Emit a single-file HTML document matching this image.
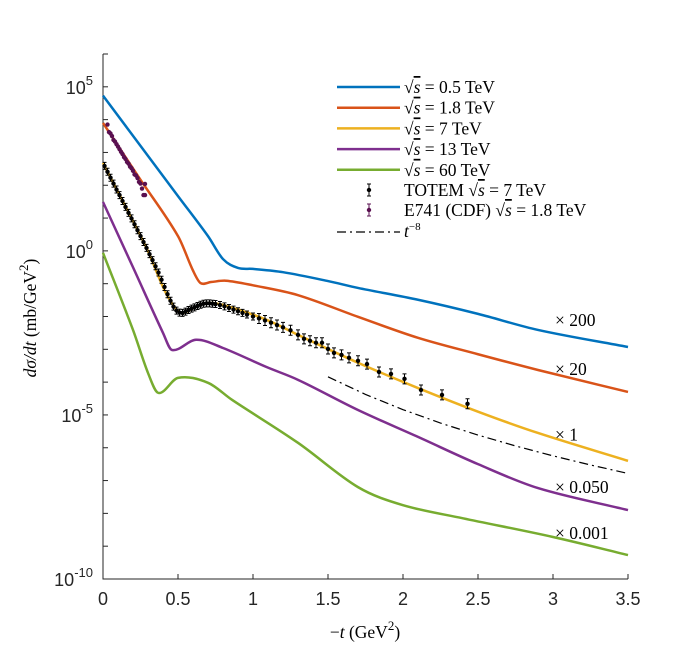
<!DOCTYPE html>
<html><head><meta charset="utf-8"><style>
body{margin:0;background:#fff}
svg{display:block}
.tk{font-family:"Liberation Sans",sans-serif;font-size:18px;fill:#262626}
.tx{font-family:"Liberation Serif",serif;font-size:17.5px;fill:#000}
</style></head><body>
<svg id="chart" width="700" height="656" viewBox="0 0 700 656">
<g id="axes"></g>
<g id="series"></g>
<g id="data"></g>
<g id="legend"></g>
<text class="tx" x="365" y="638" text-anchor="middle" font-size="21"><tspan>−</tspan><tspan font-style="italic">t</tspan> (GeV<tspan dy="-8" font-size="13">2</tspan><tspan dy="8">)</tspan></text>
<text class="tx" transform="translate(36,318) rotate(-90)" text-anchor="middle" font-size="21"><tspan font-style="italic">dσ/dt</tspan> (mb/GeV<tspan dy="-8" font-size="13">2</tspan><tspan dy="8">)</tspan></text>
</svg>
<script>
// ---- data (log10 of dσ/dt, scaled) ----
const blueT=[0,0.25,0.5,0.7,0.8,0.9,1.0,1.2,1.5,1.7,2.1,2.5,2.9,3.5];
const blueV=[4.73,3.2,1.67,0.45,-0.25,-0.52,-0.55,-0.65,-0.92,-1.13,-1.49,-1.92,-2.41,-2.93];
const orangeT=[0,0.245,0.5,0.6,0.65,0.72,0.82,1.0,1.3,1.7,2.1,2.5,2.9,3.5];
const orangeV=[3.9,2.2,0.45,-0.6,-0.98,-0.95,-0.91,-1.05,-1.35,-2.01,-2.65,-3.15,-3.63,-4.30];
const yellowT=[0,0.29,0.4,0.46,0.52,0.6,0.69,0.8,1.09,1.3,1.7,2.1,2.5,2.9,3.5];
const yellowV=[2.68,0.09,-1.1,-1.6,-1.89,-1.75,-1.59,-1.65,-2.10,-2.56,-3.41,-4.18,-4.9,-5.55,-6.4];
const purpleT=[0,0.2,0.4,0.46,0.62,0.8,1.09,1.3,1.7,2.1,2.5,2.9,3.5];
const purpleV=[1.49,-0.5,-2.5,-3.02,-2.71,-2.96,-3.54,-3.93,-4.85,-5.67,-6.5,-7.23,-7.9];
const greenT=[0,0.2,0.3,0.37,0.5,0.7,0.86,1.3,1.7,2.0,2.4,3.0,3.5];
const greenV=[-0.06,-2.41,-3.72,-4.33,-3.87,-4.02,-4.54,-5.85,-7.2,-7.75,-8.15,-8.72,-9.27];
const totemT=[0.01,0.03,0.05,0.07,0.09,0.11,0.13,0.15,0.17,0.19,0.21,0.23,0.25,0.27,0.29,0.31,0.33,0.35,0.37,0.39,0.41,0.43,0.45,0.47,0.49,0.51,0.53,0.55,0.57,0.59,0.61,0.63,0.65,0.67,0.69,0.71,0.73,0.75,0.78,0.81,0.84,0.87,0.90,0.93,0.96,1.00,1.04,1.08,1.12,1.16,1.20,1.25,1.30,1.34,1.38,1.42,1.46,1.50,1.54,1.59,1.64,1.70,1.76,1.84,1.92,2.01,2.12,2.26,2.43];
const totemV=[2.59,2.41,2.23,2.05,1.87,1.70,1.52,1.34,1.16,0.99,0.81,0.63,0.45,0.27,0.09,-0.10,-0.28,-0.47,-0.66,-0.88,-1.10,-1.32,-1.52,-1.70,-1.82,-1.88,-1.89,-1.85,-1.80,-1.76,-1.72,-1.68,-1.64,-1.61,-1.60,-1.60,-1.61,-1.62,-1.65,-1.69,-1.74,-1.79,-1.84,-1.89,-1.94,-2.0,-2.06,-2.12,-2.19,-2.26,-2.33,-2.42,-2.56,-2.68,-2.74,-2.80,-2.80,-2.99,-3.11,-3.17,-3.26,-3.35,-3.45,-3.69,-3.75,-3.90,-4.24,-4.39,-4.66];
const e741T=[0.03,0.04,0.05,0.06,0.07,0.08,0.09,0.10,0.11,0.12,0.13,0.14,0.15,0.16,0.17,0.18,0.19,0.20,0.21,0.22,0.23,0.24,0.25,0.26,0.27,0.28,0.28];
const e741V=[3.85,3.62,3.58,3.50,3.38,3.33,3.25,3.18,3.10,3.02,2.95,2.86,2.80,2.71,2.66,2.57,2.52,2.44,2.33,2.30,2.22,2.10,2.05,1.90,1.70,2.04,1.70];
const powerT=[1.5,1.75,2.0,2.25,2.5,2.75,3.0,3.25,3.5];
const powerLogC=-2.43, powerExp=-8;
const xTicks=[0,0.5,1,1.5,2,2.5,3,3.5];
const xTickLabels=["0","0.5","1","1.5","2","2.5","3","3.5"];
const yTicks=[-10,-5,0,5];
const scaleLabels=["× 200","× 20","× 1","× 0.050","× 0.001"];
const scaleLabelPos=[[3.0,-2.1],[3.0,-3.6],[3.0,-5.6],[3.0,-7.2],[3.0,-8.6]];

// ---- axes functions ----
const X0=103,X1=628,Y0=579,Y1=54,xMin=0,xMax=3.5,yMin=-10,yMax=6;
const sx=t=>X0+(t-xMin)/(xMax-xMin)*(X1-X0);
const sy=v=>Y0-(v-yMin)/(yMax-yMin)*(Y0-Y1);
const NS="http://www.w3.org/2000/svg";
function mk(tag,attrs,parent){const e=document.createElementNS(NS,tag);for(const k in attrs)e.setAttribute(k,attrs[k]);parent.appendChild(e);return e;}
const axes=document.getElementById('axes');
let ax=mk('path',{d:`M${X0},${Y1}V${Y0}H${X1}`,fill:'none',stroke:'#262626','stroke-width':1},axes);


xTicks.forEach((t,i)=>{
  const l=mk('line',{x1:sx(t),x2:sx(t),y1:Y0,y2:Y0-5,stroke:'#262626'},axes);
  
  
  const tx=mk('text',{x:sx(t),y:Y0+26,'text-anchor':'middle',class:'tk'},axes);
  tx.textContent=xTickLabels[i];
  
  
});
for(let v=yMin;v<=yMax;v++){
  const l=mk('line',{x1:X0,x2:X0+5,y1:sy(v),y2:sy(v),stroke:'#262626'},axes);
  
  
}
yTicks.forEach(v=>{
  const tx=mk('text',{x:X0-10,y:sy(v)+7,'text-anchor':'end',class:'tk'},axes);
  tx.innerHTML=`10<tspan dy="-9" font-size="13">${v}</tspan>`;
  
  
});

// ---- curves (nonuniform cubic Hermite through data points) ----
function pathFor(T,V){
  const n=T.length,m=[];
  for(let i=0;i<n;i++){
    const a=Math.max(0,i-1),b=Math.min(n-1,i+1);
    m.push((V[b]-V[a])/(T[b]-T[a]));
  }
  let d=`M${sx(T[0])},${sy(V[0])}`;
  for(let i=0;i<n-1;i++){
    const h=T[i+1]-T[i];
    const c1t=T[i]+h/3,c1v=V[i]+m[i]*h/3,c2t=T[i+1]-h/3,c2v=V[i+1]-m[i+1]*h/3;
    d+=`C${sx(c1t)},${sy(c1v)} ${sx(c2t)},${sy(c2v)} ${sx(T[i+1])},${sy(V[i+1])}`;
  }
  return d;
}
const series=document.getElementById('series');
const defs=[[blueT,blueV,'#0072BD','curve-0p5-tev'],[orangeT,orangeV,'#D95319','curve-1p8-tev'],[yellowT,yellowV,'#EDB120','curve-7-tev'],[purpleT,purpleV,'#7E2F8E','curve-13-tev'],[greenT,greenV,'#77AC30','curve-60-tev']];
defs.forEach(([T,V,c,n])=>{
  const p=mk('path',{d:pathFor(T,V),fill:'none',stroke:c,'stroke-width':2.5},series);
  
  
});
const pw=mk('path',{d:powerT.map((t,i)=>(i?'L':'M')+sx(t)+','+sy(powerLogC+powerExp*Math.log10(t))).join(''),fill:'none',stroke:'#000','stroke-width':1.2,'stroke-dasharray':'9,4,2,4'},series);



// ---- data points ----
const dg=document.getElementById('data');
totemT.forEach((t,i)=>{
  const x=sx(t),y=sy(totemV[i]),h=t>1?5:3.5;
  const g=mk('path',{d:`M${x},${y-h}V${y+h}M${x-2},${y-h}H${x+2}M${x-2},${y+h}H${x+2}`,stroke:'#000','stroke-width':1},dg);
  
  
  const c=mk('circle',{cx:x,cy:y,r:2.2,fill:'#000'},dg);
  
  
});
e741T.forEach((t,i)=>{
  const c=mk('circle',{cx:sx(t),cy:sy(e741V[i]),r:2.2,fill:'#5a1050'},dg);
  
  
});
scaleLabels.forEach((s,i)=>{
  const tx=mk('text',{x:sx(scaleLabelPos[i][0])+2,y:sy(scaleLabelPos[i][1])+6,class:'tx'},dg);
  tx.textContent=s;
  
  
});

// ---- legend ----
const lg=document.getElementById('legend');
const legItems=[['line','#0072BD','0.5 TeV'],['line','#D95319','1.8 TeV'],['line','#EDB120','7 TeV'],['line','#7E2F8E','13 TeV'],['line','#77AC30','60 TeV']];
legItems.forEach(([k,c,lab],i)=>{
  const y=87+i*20.7;
  const l=mk('line',{x1:337,x2:400,y1:y,y2:y,stroke:c,'stroke-width':2.5},lg);
  
  
  const tx=mk('text',{x:404,y:y+6,class:'tx'},lg);
  tx.innerHTML=`√<tspan text-decoration="overline" font-style="italic">s</tspan> = ${lab}`;
  
  
});
[['#000','TOTEM ','= 7 TeV',190],['#5a1050','E741 (CDF) ','= 1.8 TeV',210]].forEach(([c,a,b,y])=>{
  const g=mk('path',{d:`M369,${y-6}V${y+6}M367,${y-6}H371M367,${y+6}H371`,stroke:c},lg);
  
  
  const ci=mk('circle',{cx:369,cy:y,r:2.2,fill:c},lg);
  
  
  const tx=mk('text',{x:404,y:y+6,class:'tx'},lg);
  tx.innerHTML=`${a}√<tspan text-decoration="overline" font-style="italic">s</tspan> ${b}`;
  
  
});
const ll=mk('line',{x1:337,x2:400,y1:232,y2:232,stroke:'#000','stroke-width':1.2,'stroke-dasharray':'9,4,2,4'},lg);


const lt=mk('text',{x:404,y:237,class:'tx'},lg);
lt.innerHTML='<tspan font-style="italic">t</tspan><tspan dy="-7" font-size="11">−8</tspan>';


</script>
</body></html>
